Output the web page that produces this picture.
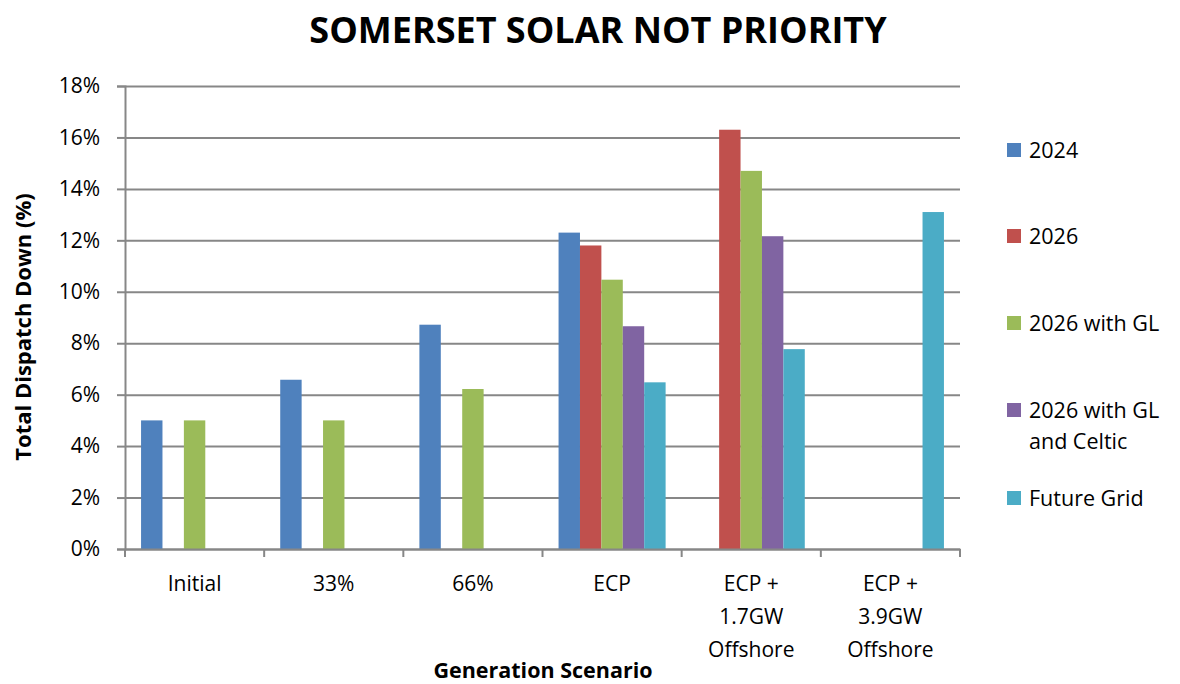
<!DOCTYPE html>
<html>
<head>
<meta charset="utf-8">
<script src="https://cdn.jsdelivr.net/npm/d3@7"></script>
<style>
  body { margin: 0; background: #fff; }
  svg text { font-family: 'Open Sans', sans-serif; fill: #000; }
</style>
</head>
<body>
<div id="chart"></div>
<script>
var categories = [
  ['Initial'],
  ['33%'],
  ['66%'],
  ['ECP'],
  ['ECP +', '1.7GW', 'Offshore'],
  ['ECP +', '3.9GW', 'Offshore']
]
var seriesNames = ['2024', '2026', '2026 with GL', '2026 with GL and Celtic', 'Future Grid']
var legendLines = [['2024'], ['2026'], ['2026 with GL'], ['2026 with GL', 'and Celtic'], ['Future Grid']]
var colors = ['#4F81BD', '#C0504D', '#9BBB59', '#8064A2', '#4BACC6']

// values in %, null = no bar
var v2024 = [5.0, 6.58, 8.72, 12.3, null, null]
var v2026 = [null, null, null, 11.8, 16.3, null]
var v2026GL = [5.0, 5.0, 6.22, 10.47, 14.7, null]
var v2026GLCeltic = [null, null, null, 8.66, 12.16, null]
var vFutureGrid = [null, null, null, 6.48, 7.77, 13.1]
var yTicks = [0, 2, 4, 6, 8, 10, 12, 14, 16, 18]

var seriesValues = [v2024, v2026, v2026GL, v2026GLCeltic, vFutureGrid]

var margin = { top: 86, left: 125, right: 220, bottom: 135 }
var width = 1180 - margin.left - margin.right
var height = 684 - margin.top - margin.bottom

var svg = d3
  .select('#chart')
  .append('svg')
  .attr('width', 1180)
  .attr('height', 684)

var g = svg
  .append('g')
  .attr('transform', 'translate(' + margin.left + ',' + margin.top + ')')

var xScale = d3
  .scaleBand()
  .domain(d3.range(categories.length))
  .range([0, width])

// excel style gap width 150%: 5 bars + 1.5 bar of gap per category
var inner = d3
  .scaleBand()
  .domain(d3.range(seriesNames.length))
  .range([xScale.bandwidth() * 0.75 / 6.5, xScale.bandwidth() * 5.75 / 6.5])

var yScale = d3
  .scaleLinear()
  .domain([0, 18])
  .range([height, 0])

// gridlines
var yAxis = d3
  .axisLeft(yScale)
  .tickValues(yTicks)
  .tickSize(-width)
  .tickFormat('')
g.append('g').attr('class', 'grid').call(yAxis)
g.selectAll('.grid path').remove()
g.selectAll('.grid line')
  .attr('stroke', '#878787')
  .attr('stroke-width', 2)

// y tick marks + labels
var yAxis2 = d3
  .axisLeft(yScale)
  .tickValues(yTicks)
  .tickSize(8)
  .tickPadding(17)
  .tickFormat(d => d + '%')
var ya = g.append('g').attr('class', 'y-axis').call(yAxis2)
ya.select('path').attr('stroke', '#878787').attr('stroke-width', 2)
ya.selectAll('line').attr('stroke', '#878787').attr('stroke-width', 2)
ya.selectAll('text').attr('font-size', 21).attr('fill', '#000')

// bars
seriesValues.forEach(function(vals, si) {
  g.append('g')
    .selectAll('rect')
    .data(vals.map((v, i) => ({ v: v, i: i })).filter(d => d.v !== null))
    .enter()
    .append('rect')
    .attr('x', d => xScale(d.i) + inner(si))
    .attr('width', inner.bandwidth())
    .attr('y', d => yScale(d.v))
    .attr('height', d => height - yScale(d.v))
    .attr('fill', colors[si])
})

// x axis
var xAxis = d3
  .axisBottom(xScale)
  .tickSize(0)
  .tickFormat('')
var xa = g
  .append('g')
  .attr('class', 'x-axis')
  .attr('transform', 'translate(0,' + height + ')')
  .call(xAxis)
xa.select('path').attr('stroke', '#878787').attr('stroke-width', 2)

// category boundary ticks
xa.selectAll('.bound')
  .data(d3.range(categories.length + 1))
  .enter()
  .append('line')
  .attr('x1', d => d * xScale.step())
  .attr('x2', d => d * xScale.step())
  .attr('y1', 0)
  .attr('y2', 8)
  .attr('stroke', '#878787')
  .attr('stroke-width', 2)

var labels = xa
  .selectAll('.cat')
  .data(categories)
  .enter()
  .append('text')
  .attr('class', 'cat')
  .attr('text-anchor', 'middle')
  .attr('font-size', 21)
  .attr('transform', (d, i) => 'translate(' + (xScale(i) + xScale.bandwidth() / 2) + ',42)')
labels
  .selectAll('tspan')
  .data(d => d)
  .enter()
  .append('tspan')
  .attr('x', 0)
  .attr('dy', (d, i) => (i === 0 ? 0 : 33))
  .text(d => d)

// axis titles
svg
  .append('text')
  .text('Generation Scenario')
  .attr('x', 543)
  .attr('y', 678)
  .attr('text-anchor', 'middle')
  .attr('font-size', 21.5)
  .attr('font-weight', 'bold')

svg
  .append('text')
  .text('Total Dispatch Down (%)')
  .attr('transform', 'translate(31,327) rotate(-90)')
  .attr('text-anchor', 'middle')
  .attr('font-size', 22)
  .attr('font-weight', 'bold')

// title
svg
  .append('text')
  .text('SOMERSET SOLAR NOT PRIORITY')
  .attr('x', 598)
  .attr('y', 43)
  .attr('text-anchor', 'middle')
  .attr('font-size', 36)
  .attr('font-weight', 'bold')

// legend
var legendY = [150, 236, 323, 410, 498]
var legend = svg
  .append('g')
  .selectAll('g')
  .data(legendLines)
  .enter()
  .append('g')
  .attr('transform', (d, i) => 'translate(1007,' + legendY[i] + ')')
legend
  .append('rect')
  .attr('x', 0)
  .attr('y', -7)
  .attr('width', 14)
  .attr('height', 14)
  .attr('fill', (d, i) => colors[i])
var lt = legend
  .append('text')
  .attr('x', 22)
  .attr('y', 8)
  .attr('font-size', 21.5)
lt.selectAll('tspan')
  .data(d => d)
  .enter()
  .append('tspan')
  .attr('x', 22)
  .attr('dy', (d, i) => (i === 0 ? 0 : 31))
  .text(d => d)
</script>
</body>
</html>
